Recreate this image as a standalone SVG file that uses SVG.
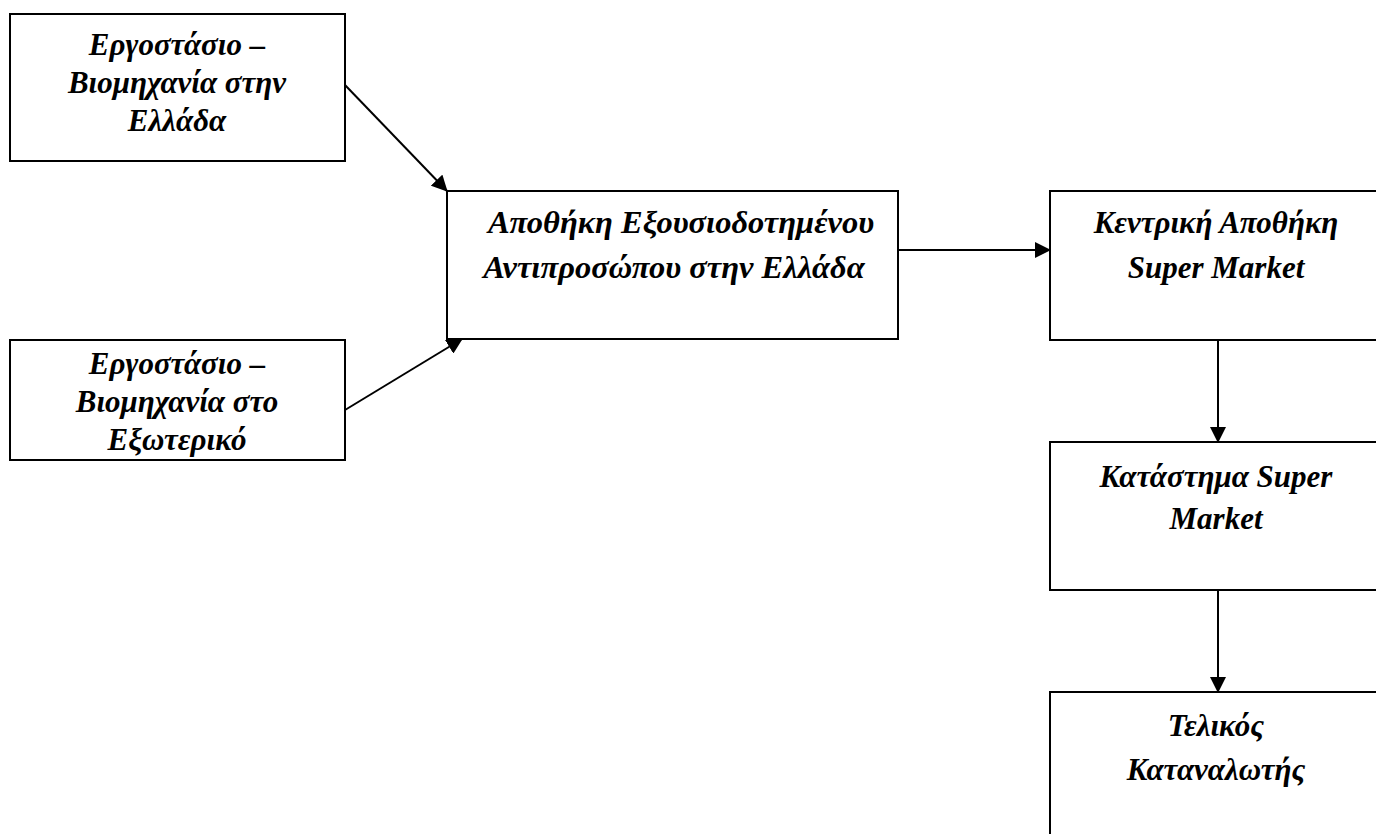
<svg xmlns="http://www.w3.org/2000/svg" width="1376" height="834" viewBox="0 0 1376 834">
<style>
.box{fill:#fff;stroke:#000;stroke-width:2}
.t{font-family:"Liberation Serif","Times New Roman",serif;font-style:italic;font-weight:bold;font-size:31px;text-anchor:middle;fill:#000}
.w{font-size:32.5px}
.c{stroke:#000;stroke-width:2;fill:none}
</style>
<defs>
<marker id="ah" markerWidth="16" markerHeight="16" refX="15" refY="8" orient="auto" markerUnits="userSpaceOnUse">
<path d="M0,0 L16,8 L0,16 z" fill="#000"/>
</marker>
</defs>
<rect width="1376" height="834" fill="#fff"/>
<g id="n1"><rect class="box" x="10" y="14" width="335" height="147"/>
<text class="t" x="177" y="55">Εργοστάσιο –</text>
<text class="t" x="177" y="93">Βιομηχανία στην</text>
<text class="t" x="177" y="131">Ελλάδα</text></g>
<g id="n2"><rect class="box" x="10" y="340" width="335" height="120"/>
<text class="t" x="177" y="374">Εργοστάσιο –</text>
<text class="t" x="177" y="412">Βιομηχανία στο</text>
<text class="t" x="177" y="450">Εξωτερικό</text></g>
<g id="n3"><rect class="box" x="447" y="191" width="451" height="148"/>
<text class="t w" x="681" y="233">Αποθήκη Εξουσιοδοτημένου</text>
<text class="t w" x="674" y="278">Αντιπροσώπου στην Ελλάδα</text></g>
<g id="n4"><rect class="box" x="1050" y="191" width="340" height="149"/>
<text class="t" x="1216" y="233">Κεντρική Αποθήκη</text>
<text class="t" x="1216" y="278">Super Market</text></g>
<g id="n5"><rect class="box" x="1050" y="442" width="340" height="148"/>
<text class="t" x="1216" y="487">Κατάστημα Super</text>
<text class="t" x="1216" y="529">Market</text></g>
<g id="n6"><rect class="box" x="1050" y="692" width="340" height="160"/>
<text class="t" x="1216" y="736">Τελικός</text>
<text class="t" x="1216" y="780">Καταναλωτής</text></g>
<g id="connectors">
<line class="c" x1="345" y1="85" x2="447" y2="191" marker-end="url(#ah)"/>
<line class="c" x1="345" y1="410" x2="462" y2="339" marker-end="url(#ah)"/>
<line class="c" x1="898" y1="250" x2="1050" y2="250" marker-end="url(#ah)"/>
<line class="c" x1="1218" y1="340" x2="1218" y2="442" marker-end="url(#ah)"/>
<line class="c" x1="1218" y1="590" x2="1218" y2="692" marker-end="url(#ah)"/>
</g>
</svg>
